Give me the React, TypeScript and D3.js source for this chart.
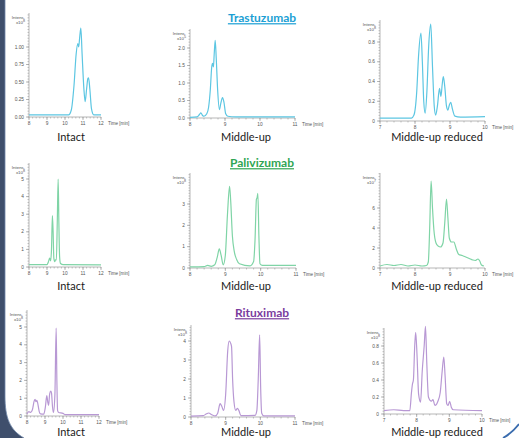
import React from 'react';
import * as d3 from 'd3';

const W = 519;
const H = 438;

// ---------- data (time [min], intensity) ----------
const trastuzumabIntact: [number, number][] = [[8,0.03],[10.2,0.03],[10.35,0.1],[10.5,0.45],[10.62,0.9],[10.71,1.05],[10.76,1.0],[10.82,1.15],[10.88,1.27],[10.95,0.9],[11.05,0.4],[11.12,0.22],[11.2,0.4],[11.27,0.55],[11.31,0.56],[11.38,0.4],[11.47,0.12],[11.6,0.03],[12,0.03]];
const trastuzumabMiddleUp: [number, number][] = [[8,0.02],[8.2,0.03],[8.27,0.1],[8.31,0.15],[8.36,0.07],[8.4,0.05],[8.48,0.12],[8.53,0.3],[8.58,0.8],[8.62,1.45],[8.645,1.56],[8.67,1.46],[8.69,1.8],[8.72,2.22],[8.75,1.7],[8.79,0.8],[8.84,0.24],[8.88,0.42],[8.93,0.58],[8.97,0.45],[9.02,0.12],[9.08,0.05],[9.3,0.03],[11,0.03]];
const trastuzumabReduced: [number, number][] = [[7,0.03],[7.9,0.03],[7.97,0.06],[8.05,0.3],[8.1,0.65],[8.17,0.89],[8.21,0.6],[8.25,0.2],[8.29,0.08],[8.34,0.3],[8.39,0.75],[8.45,0.98],[8.5,0.55],[8.55,0.15],[8.59,0.06],[8.64,0.15],[8.7,0.33],[8.74,0.25],[8.78,0.38],[8.81,0.45],[8.85,0.35],[8.9,0.15],[8.94,0.11],[8.98,0.16],[9.02,0.19],[9.07,0.12],[9.14,0.05],[9.3,0.04],[10,0.045]];

const palivizumabIntact: [number, number][] = [[8,0.13],[9.0,0.13],[9.08,0.3],[9.15,0.5],[9.2,0.35],[9.25,1.0],[9.3,2.92],[9.34,2.0],[9.38,0.5],[9.43,0.3],[9.47,0.4],[9.52,0.4],[9.57,2.5],[9.62,5.0],[9.66,2.5],[9.7,0.6],[9.75,0.2],[9.9,0.13],[12,0.12]];
const palivizumabMiddleUp: [number, number][] = [[8,0.05],[8.4,0.06],[8.5,0.12],[8.6,0.08],[8.7,0.15],[8.77,0.5],[8.83,0.9],[8.88,0.6],[8.94,0.15],[9.0,0.6],[9.06,2.5],[9.12,3.83],[9.15,3.2],[9.2,1.5],[9.25,0.8],[9.32,0.4],[9.4,0.2],[9.7,0.1],[9.8,0.3],[9.84,1.3],[9.88,3.23],[9.9,3.3],[9.92,3.5],[9.95,1.5],[9.98,0.2],[10.05,0.12],[11,0.12]];
const palivizumabReduced: [number, number][] = [[7,0.2],[7.2,0.35],[7.4,0.25],[7.6,0.35],[7.8,0.2],[8.0,0.3],[8.2,0.2],[8.33,0.25],[8.38,0.6],[8.42,4],[8.46,8.7],[8.5,6.0],[8.54,3.8],[8.6,2.5],[8.66,2.2],[8.73,2.1],[8.8,2.5],[8.85,4.5],[8.9,6.9],[8.94,5.0],[8.98,3.0],[9.04,2.6],[9.11,2.6],[9.18,1.9],[9.25,1.35],[9.35,1.25],[9.45,1.1],[9.55,0.95],[9.65,0.8],[9.72,0.75],[9.8,0.9],[9.85,0.7],[9.9,0.3],[9.97,0.2]];

const rituximabIntact: [number, number][] = [[8,0.12],[8.1,0.25],[8.2,0.2],[8.3,0.35],[8.4,0.85],[8.45,0.93],[8.5,0.8],[8.55,0.88],[8.6,0.7],[8.68,0.25],[8.75,0.12],[8.93,0.1],[9.02,0.5],[9.1,1.15],[9.15,0.8],[9.2,0.6],[9.26,1.25],[9.32,1.4],[9.36,1.3],[9.42,0.5],[9.47,0.2],[9.55,1.2],[9.62,4.94],[9.66,2.0],[9.7,0.3],[9.76,0.2],[10.0,0.15],[10.1,0.08],[12,0.08]];
const rituximabMiddleUp: [number, number][] = [[8,0.05],[8.35,0.07],[8.45,0.17],[8.51,0.21],[8.6,0.12],[8.7,0.06],[8.77,0.2],[8.84,0.7],[8.89,0.55],[8.94,0.35],[9.0,1.2],[9.06,3.5],[9.1,4.0],[9.14,3.9],[9.17,3.7],[9.2,2.0],[9.24,0.8],[9.29,0.35],[9.34,0.45],[9.38,0.35],[9.44,0.07],[9.85,0.09],[9.9,0.35],[9.94,2.0],[9.98,4.32],[10.01,1.5],[10.04,0.2],[10.1,0.06],[11,0.06]];
const rituximabReduced: [number, number][] = [[7,0.04],[7.3,0.05],[7.6,0.04],[7.79,0.04],[7.84,0.25],[7.87,0.35],[7.9,0.4],[7.94,0.8],[7.97,0.96],[8.01,0.7],[8.06,0.23],[8.12,0.14],[8.17,0.5],[8.23,0.8],[8.27,1.03],[8.31,0.6],[8.36,0.2],[8.45,0.15],[8.5,0.17],[8.56,0.1],[8.65,0.15],[8.72,0.25],[8.78,0.5],[8.83,0.67],[8.87,0.45],[8.92,0.12],[8.96,0.1],[9.01,0.15],[9.06,0.08],[9.12,0.05],[10,0.04]];

// ---------- labels & ticks ----------
const antibodies = ['Trastuzumab', 'Palivizumab', 'Rituximab'];
const methods = ['Intact', 'Middle-up', 'Middle-up reduced'];
const xTicksIntact = [8, 9, 10, 11, 12];
const xTicksMiddleUp = [8, 9, 10, 11];
const xTicksReduced = [7, 8, 9, 10];
const yTicksTrasIntact = ['0.00', '0.25', '0.50', '0.75', '1.00'];
const yTicksTrasMiddleUp = ['0.0', '0.5', '1.0', '1.5', '2.0'];
const yTicksFraction = ['0', '0.2', '0.4', '0.6', '0.8'];
const yTicksFive = ['0', '1', '2', '3', '4', '5'];
const yTicksThree = ['0', '1', '2', '3'];
const yTicksFour = ['0', '1', '2', '3', '4'];
const yTicksEven = ['0', '2', '4', '6'];
const exponents = ['8', '5', '8', '8', '8', '7', '8', '8', '8'];

// ---------- layout / style ----------
const lineColors = ['#5cc6e2', '#7fd4a6', '#b898d4'];
const titleColors = ['#1c9fd4', '#2fa653', '#7a3c9e'];

type P = { data: [number, number][]; xDomain: [number, number]; xTicks: number[]; yTicks: string[]; left: number; right: number; y0: number; refPx: number; top: number; };

const panels: P[] = [
  { data: trastuzumabIntact, xDomain: [8, 12], xTicks: xTicksIntact, yTicks: yTicksTrasIntact, left: 29, right: 101, y0: 117, refPx: 47, top: 13 },
  { data: trastuzumabMiddleUp, xDomain: [8, 11], xTicks: xTicksMiddleUp, yTicks: yTicksTrasMiddleUp, left: 190, right: 295, y0: 118, refPx: 48, top: 29 },
  { data: trastuzumabReduced, xDomain: [7, 10], xTicks: xTicksReduced, yTicks: yTicksFraction, left: 380, right: 485, y0: 121, refPx: 42, top: 20 },
  { data: palivizumabIntact, xDomain: [8, 12], xTicks: xTicksIntact, yTicks: yTicksFive, left: 29, right: 101, y0: 267, refPx: 179, top: 163 },
  { data: palivizumabMiddleUp, xDomain: [8, 11], xTicks: xTicksMiddleUp, yTicks: yTicksThree, left: 190, right: 296, y0: 268, refPx: 204, top: 173 },
  { data: palivizumabReduced, xDomain: [7, 10], xTicks: xTicksReduced, yTicks: yTicksEven, left: 380, right: 485, y0: 268, refPx: 208, top: 173 },
  { data: rituximabIntact, xDomain: [8, 12], xTicks: xTicksIntact, yTicks: yTicksFive, left: 27, right: 99, y0: 416, refPx: 327, top: 310 },
  { data: rituximabMiddleUp, xDomain: [8, 11], xTicks: xTicksMiddleUp, yTicks: yTicksFour, left: 191, right: 295, y0: 417, refPx: 341, top: 325 },
  { data: rituximabReduced, xDomain: [7, 10], xTicks: xTicksReduced, yTicks: yTicksFraction, left: 384, right: 482, y0: 414, refPx: 346, top: 328 },
];

const labelRowY = [137, 286, 432.5];
const labelColX = [71, 246, 437];
const titleY = [18, 163, 313];
const titleX = 262;

const axisColor = '#9a9a9a';
const tickFont = 'Liberation Sans, Arial, sans-serif';
const labelFont = 'Lato, Open Sans, sans-serif';

function Panel({ p, idx }: { p: P; idx: number }) {
  const row = Math.floor(idx / 3);
  const x = d3.scaleLinear().domain(p.xDomain).range([p.left, p.right]);
  const yVals = p.yTicks.map(Number);
  const yMax = yVals[yVals.length - 1];
  const y = d3.scaleLinear().domain([0, yMax]).range([p.y0, p.refPx]);
  const line = d3.line<[number, number]>().x(d => x(d[0])).y(d => y(d[1])).curve(d3.curveMonotoneX);
  const yStep = yVals[1] - yVals[0];
  const yMajorPx = Math.abs(y(yStep) - y(0));
  const nMinorY = Math.max(2, Math.round(yMajorPx / 2.8));
  const minorY: number[] = [];
  for (let v = 0; y(v) >= p.top - 0.01; v += yStep / nMinorY) minorY.push(y(v));
  const minorX: number[] = [];
  for (let t = p.xDomain[0]; t <= p.xDomain[1] + 1e-6; t += 0.2) minorX.push(x(t));
  return (
    <g>
      <line x1={p.left} x2={p.left} y1={p.top} y2={p.y0} stroke={axisColor} strokeWidth={0.7} />
      <line x1={p.left} x2={p.right} y1={p.y0} y2={p.y0} stroke={axisColor} strokeWidth={0.7} />
      {minorY.map((py, i) => (
        <line key={'my' + i} x1={p.left - 1.5} x2={p.left} y1={py} y2={py} stroke={axisColor} strokeWidth={0.6} />
      ))}
      {minorX.map((px, i) => (
        <line key={'mx' + i} x1={px} x2={px} y1={p.y0} y2={p.y0 + 1.5} stroke={axisColor} strokeWidth={0.6} />
      ))}
      {p.yTicks.map((t, i) => (
        <g key={'yt' + i}>
          <line x1={p.left - 3} x2={p.left} y1={y(yVals[i])} y2={y(yVals[i])} stroke={axisColor} strokeWidth={0.7} />
          <text x={p.left - 5} y={y(yVals[i])} dy="0.35em" textAnchor="end" fontSize={4.8} fontFamily={tickFont} fill="#555">{t}</text>
        </g>
      ))}
      {p.xTicks.map((t, i) => (
        <g key={'xt' + i}>
          <line x1={x(t)} x2={x(t)} y1={p.y0} y2={p.y0 + 3} stroke={axisColor} strokeWidth={0.7} />
          <text x={x(t)} y={p.y0 + 6} dy="0.35em" textAnchor="middle" fontSize={4.8} fontFamily={tickFont} fill="#555">{t}</text>
        </g>
      ))}
      <text x={p.right + 7} y={p.y0 + 6} dy="0.35em" fontSize={4.6} fontFamily={tickFont} fill="#555">Time [min]</text>
      <text x={p.left - 4} y={p.top + 6} textAnchor="end" fontSize={4.4} fontFamily={tickFont} fill="#555">Intens.</text>
      <text x={p.left - 4} y={p.top + 11} textAnchor="end" fontSize={4.4} fontFamily={tickFont} fill="#555">
        x10<tspan dy={-2} fontSize={3.6}>{exponents[idx]}</tspan>
      </text>
      <path d={line(p.data) || ''} fill="none" stroke={lineColors[row]} strokeWidth={1.2} strokeLinejoin="round" />
    </g>
  );
}

export default function App() {
  return (
    <svg width={W} height={H} style={{ position: 'absolute', left: 0, top: 0, background: '#fff' }}>
      <rect x={0} y={0} width={W} height={H} fill="#ffffff" />
      {panels.map((p, i) => <Panel key={i} p={p} idx={i} />)}
      {antibodies.map((a, r) => (
        <text key={a} x={titleX} y={titleY[r]} dy="0.35em" textAnchor="middle" fontSize={12} fontWeight="bold" fontFamily={labelFont} fill={titleColors[r]} textDecoration="underline">{a}</text>
      ))}
      {labelRowY.map((ry, r) => methods.map((m, c) => (
        <text key={r + m} x={labelColX[c]} y={ry} dy="0.35em" textAnchor="middle" fontSize={11} fontFamily={labelFont} fill="#1a1a1a">{m}</text>
      )))}
      <path d="M0,0 L5,0 L5,396 C5,418 10,430 24,438 L0,438 Z" fill="#3f4f6c" />
      <path d="M5,0 L5,396 C5,418 10,430 24,438" fill="none" stroke="#6f86a8" strokeWidth={0.8} />
      <path d="M503,438 Q512,433 519,424" fill="none" stroke="#3a6cae" strokeWidth={1.8} />
    </svg>
  );
}
